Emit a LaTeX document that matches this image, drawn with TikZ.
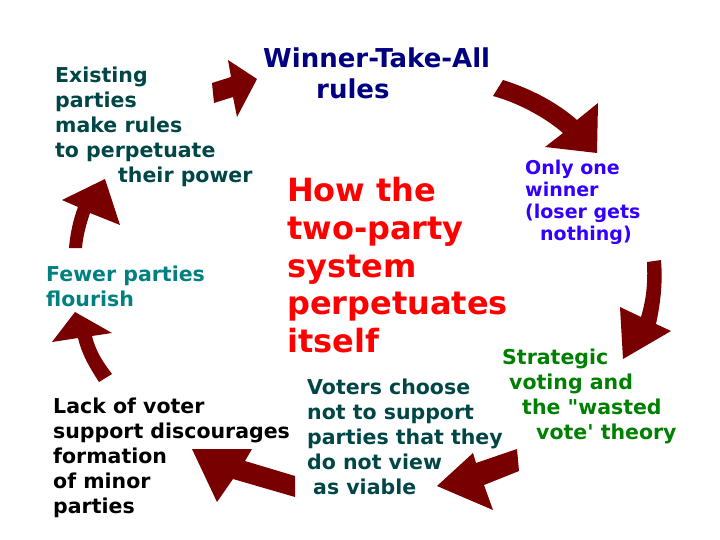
\documentclass[tikz,border=0pt]{standalone}
\usepackage{fontspec}
\newfontfamily\dejavu{DejaVu Sans}
\definecolor{arrowred}{RGB}{120,0,0}
\definecolor{titlenavy}{RGB}{0,0,128}
\definecolor{darkteal}{RGB}{0,70,70}
\definecolor{winviolet}{RGB}{51,0,255}
\definecolor{votegreen}{RGB}{0,128,0}
\definecolor{lightteal}{RGB}{0,128,128}
\tikzset{
  cyclearrow/.style={fill=arrowred},
  stage/.style={anchor=north west, inner sep=0pt, align=left,
    font=\dejavu\bfseries\fontsize{20.5}{25}\selectfont},
}
\begin{document}
\begin{tikzpicture}[x=1pt,y=-1pt]
  \useasboundingbox (0,0) rectangle (720,540);
  % stages of the cycle
  \node[stage, text=titlenavy, font=\dejavu\bfseries\fontsize{26}{31}\selectfont]
    (wta) at (263,48) {Winner-Take-All\\\hspace*{53pt}rules};
  \node[stage, text=winviolet, font=\dejavu\bfseries\fontsize{19}{22}\selectfont]
    (onewin) at (525,160) {Only one\\winner\\(loser gets\\\hspace*{15pt}nothing)};
  \node[stage, text=votegreen] (strat) at (502,349)
    {Strategic\\\hspace*{7pt}voting and\\\hspace*{20pt}the "wasted\\\hspace*{34pt}vote' theory};
  \node[stage, text=darkteal] (voters) at (307,379)
    {Voters choose\\not to support\\parties that they\\do not view\\\hspace*{6pt}as viable};
  \node[stage, text=black] (lack) at (53,398)
    {Lack of voter\\support discourages\\formation\\of minor\\parties};
  \node[stage, text=lightteal] (fewer) at (46,266) {Fewer parties\\flourish};
  \node[stage, text=darkteal] (exist) at (55,67)
    {Existing\\parties\\make rules\\to perpetuate\\\hspace*{63pt}their power};
  % centre title
  \node[stage, text=red, font=\dejavu\bfseries\fontsize{32}{37.8}\selectfont]
    (title) at (287,177) {How the\\two-party\\system\\perpetuates\\itself};
  % arrows
  \fill[cyclearrow] (212,83) -- (231,77) -- (228,60) -- (257,79) -- (237,117) -- (233,97) -- (214,103) -- cycle;
  \fill[cyclearrow] (503,80) .. controls (535,90) and (560,105) .. (577,120) -- (598,103) -- (597,153)
    -- (545,147) -- (563,133) .. controls (548,120) and (522,104) .. (493,96) -- cycle;
  \fill[cyclearrow] (647,262) -- (661,260) .. controls (663,285) and (660,305) .. (656,324) -- (671,331)
    -- (623,359) -- (620,307) -- (641,317) .. controls (646,300) and (648,285) .. (647,262) -- cycle;
  \fill[cyclearrow] (517,449) -- (476,463) -- (473,453) -- (437,486) -- (493,510) -- (484,485) -- (519,471) -- cycle;
  \fill[cyclearrow] (295,476) -- (245,461) -- (252,449) -- (192,449) -- (217,502) -- (233,479) -- (295,497) -- cycle;
  \fill[cyclearrow] (99,382) .. controls (90,368) and (82,355) .. (78,338) -- (52,342) -- (75,312) -- (112,333)
    -- (92,336) .. controls (96,352) and (103,362) .. (112,374) -- cycle;
  \fill[cyclearrow] (69,248) .. controls (70,235) and (73,220) .. (78,207) -- (62,200) -- (105,179) -- (120,225)
    -- (90,213) .. controls (86,225) and (83,236) .. (82,248) -- cycle;
\end{tikzpicture}
\end{document}
